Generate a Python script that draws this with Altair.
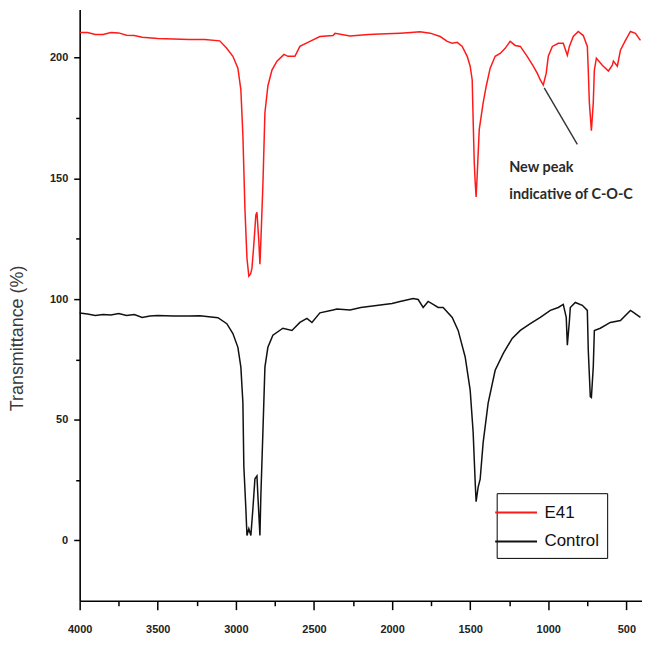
import altair as alt
import pandas as pd

# ---- data ----
wn_e41 = [4000, 3950, 3900, 3850, 3800, 3750, 3700, 3650, 3600, 3500, 3400, 3300, 3200, 3103,
          3060, 3019, 2987, 2968, 2955, 2942, 2929, 2917, 2905, 2897, 2885, 2872, 2865, 2853,
          2846, 2840, 2827, 2814, 2795, 2769, 2737, 2692, 2667, 2622, 2590, 2526, 2462, 2378,
          2365, 2269, 2150, 2077, 1949, 1880, 1821, 1756, 1692, 1647, 1615, 1583, 1551, 1519,
          1500, 1487, 1481, 1474, 1468, 1462, 1455, 1442, 1417, 1397, 1372, 1340, 1308, 1276,
          1244, 1212, 1179, 1135, 1096, 1071, 1051, 1032, 1013, 1000, 974, 936, 904, 878, 865,
          840, 808, 776, 750, 744, 737, 724, 712, 705, 692, 654, 615, 590, 583, 558, 538, 506,
          474, 442, 410]
t_e41 = [210.5, 210.5, 209.6, 209.6, 210.5, 210.3, 209.3, 209.2, 208.5, 208.0, 207.8, 207.6,
         207.6, 207.0, 204.0, 200.6, 195.7, 186.7, 167.8, 137.4, 116.9, 109.5, 110.5, 112.8,
         122.6, 134.9, 136.0, 123.9, 114.4, 123.9, 147.3, 177.2, 188.3, 194.9, 198.6, 201.4,
         200.6, 200.6, 204.7, 206.8, 208.8, 209.2, 210.1, 209.0, 209.6, 209.8, 210.2, 210.5,
         210.8, 210.2, 208.8, 206.8, 206.0, 206.4, 204.7, 200.6, 196.5, 190.8, 174.3, 156.7,
         148.5, 142.3, 151.4, 170.2, 181.3, 188.3, 195.7, 200.6, 201.8, 203.9, 206.8, 205.1,
         204.7, 200.6, 196.5, 193.6, 190.8, 188.7, 193.6, 200.6, 204.7, 206.0, 206.0, 201.0,
         204.7, 208.8, 210.9, 209.2, 204.7, 194.9, 181.3, 169.8, 181.3, 194.9, 199.8, 196.9,
         194.5, 196.9, 198.6, 196.5, 203.1, 207.2, 210.9, 210.1, 207.2]

wn_ctrl = [4000, 3950, 3900, 3850, 3800, 3750, 3700, 3650, 3600, 3550, 3500, 3400, 3300, 3231,
           3115, 3058, 3019, 2987, 2968, 2955, 2949, 2936, 2929, 2917, 2904, 2891, 2878, 2865,
           2859, 2846, 2840, 2827, 2814, 2795, 2763, 2699, 2641, 2590, 2545, 2513, 2462, 2378,
           2353, 2269, 2200, 2100, 2000, 1949, 1865, 1833, 1801, 1769, 1737, 1705, 1673, 1615,
           1577, 1532, 1500, 1481, 1468, 1462, 1449, 1436, 1417, 1385, 1340, 1288, 1231, 1179,
           1115, 1051, 987, 936, 904, 885, 878, 865, 859, 827, 782, 750, 744, 731, 724, 712,
           705, 667, 603, 538, 474, 455, 410]
t_ctrl = [94.2, 93.8, 93.2, 93.6, 93.4, 94.0, 93.2, 93.6, 92.4, 93.0, 93.2, 93.0, 93.0, 93.1,
          92.3, 89.8, 85.7, 80.0, 71.8, 57.0, 30.7, 13.1, 2.0, 4.8, 2.0, 13.1, 25.5, 26.7,
          18.5, 2.0, 18.5, 44.8, 71.8, 80.0, 85.0, 87.9, 87.0, 90.3, 92.0, 90.3, 94.3, 95.5,
          95.9, 95.5, 96.5, 97.3, 98.2, 99.0, 100.2, 99.8, 96.5, 99.0, 97.8, 96.5, 96.5, 92.4,
          87.0, 76.0, 62.3, 44.8, 24.2, 16.0, 22.1, 25.4, 40.5, 56.9, 70.5, 77.5, 83.7, 87.0,
          89.8, 92.4, 95.3, 96.5, 97.8, 92.4, 80.9, 90.7, 96.5, 98.6, 97.4, 95.3, 78.9, 59.6,
          59.2, 71.8, 87.0, 87.9, 90.3, 91.1, 95.3, 94.5, 92.4]

series_names = ["E41", "Control"]
series_colors = ["#ff1a1a", "#111111"]

x_ticks = list(range(500, 4001, 250))
y_ticks = list(range(0, 201, 25))

annot_lines = ["New peak", "indicative of C-O-C"]

# ---- build tables ----
df = pd.concat([
    pd.DataFrame({"wn": wn_e41, "T": t_e41, "series": "E41", "idx": range(len(wn_e41))}),
    pd.DataFrame({"wn": wn_ctrl, "T": t_ctrl, "series": "Control", "idx": range(len(wn_ctrl))}),
])

FONT = "Liberation Sans"

x_enc = alt.X("wn:Q",
              scale=alt.Scale(domain=[400, 4000], reverse=True, nice=False, zero=False),
              axis=alt.Axis(title=None, values=x_ticks, grid=False, format="d",
                            labelExpr="datum.value % 500 === 0 ? datum.label : ''",
                            tickSize={"condition": {"test": "datum.value % 500 === 0", "value": 9}, "value": 5},
                            labelPadding=14, labelFont=FONT, labelFontSize=11,
                            labelFontWeight="bold", labelColor="#222222",
                            labelFlush=False))
y_enc = alt.Y("T:Q",
              scale=alt.Scale(domain=[-25, 220], nice=False, zero=False),
              axis=alt.Axis(title="Transmittance (%)", values=y_ticks, grid=False, format="d",
                            labelExpr="datum.value % 50 === 0 ? datum.label : ''",
                            tickSize={"condition": {"test": "datum.value % 50 === 0", "value": 6}, "value": 4},
                            labelPadding=6, labelFont=FONT, labelFontSize=11,
                            labelFontWeight="bold", labelColor="#222222",
                            titleFont=FONT, titleFontSize=18, titleFontWeight="normal",
                            titleColor="#3a3a3a", titleX=-62, titleY=330,
                            titleAngle=270, titleBaseline="middle", titleAnchor="middle"))

lines = alt.Chart(df).mark_line(strokeWidth=1.5).encode(
    x=x_enc,
    y=y_enc,
    color=alt.Color("series:N",
                    scale=alt.Scale(domain=series_names, range=series_colors),
                    legend=alt.Legend(title=None, orient="none", legendX=419, legendY=486,
                                      strokeColor="#000000", padding=8, rowPadding=9,
                                      symbolType="M-2,0H2", symbolSize=441,
                                      symbolStrokeWidth=2, labelFont=FONT,
                                      labelFontSize=17, labelColor="#111111",
                                      labelOffset=17)),
    order="idx:Q",
)

annot_df = pd.DataFrame({"x": [1026], "y": [187.5], "x2": [814], "y2": [164.1]})
pointer = alt.Chart(annot_df).mark_rule(color="#333333", strokeWidth=1.4).encode(
    x="x:Q", y="y:Q", x2="x2:Q", y2="y2:Q")

text_df = pd.DataFrame({"x": [1250, 1250], "y": [154.2, 143.1], "label": annot_lines})
texts = alt.Chart(text_df).mark_text(
    align="left", baseline="middle", fontSize=14.5, fontWeight="bold",
    font="Lato", color="#2a2a2a"
).encode(x="x:Q", y="y:Q", text="label:N")

chart = alt.layer(lines, pointer, texts).properties(
    width=565, height=594,
    autosize=alt.AutoSizeParams(type="none"),
    padding={"left": 72, "top": 0, "right": 0, "bottom": 40},
).configure_view(stroke=None).configure_axis(
    domainColor="#000000", domainWidth=1.6, tickColor="#000000", tickWidth=1.5
)

chart.save("out.html", embed_options={"renderer": "svg", "actions": False})
